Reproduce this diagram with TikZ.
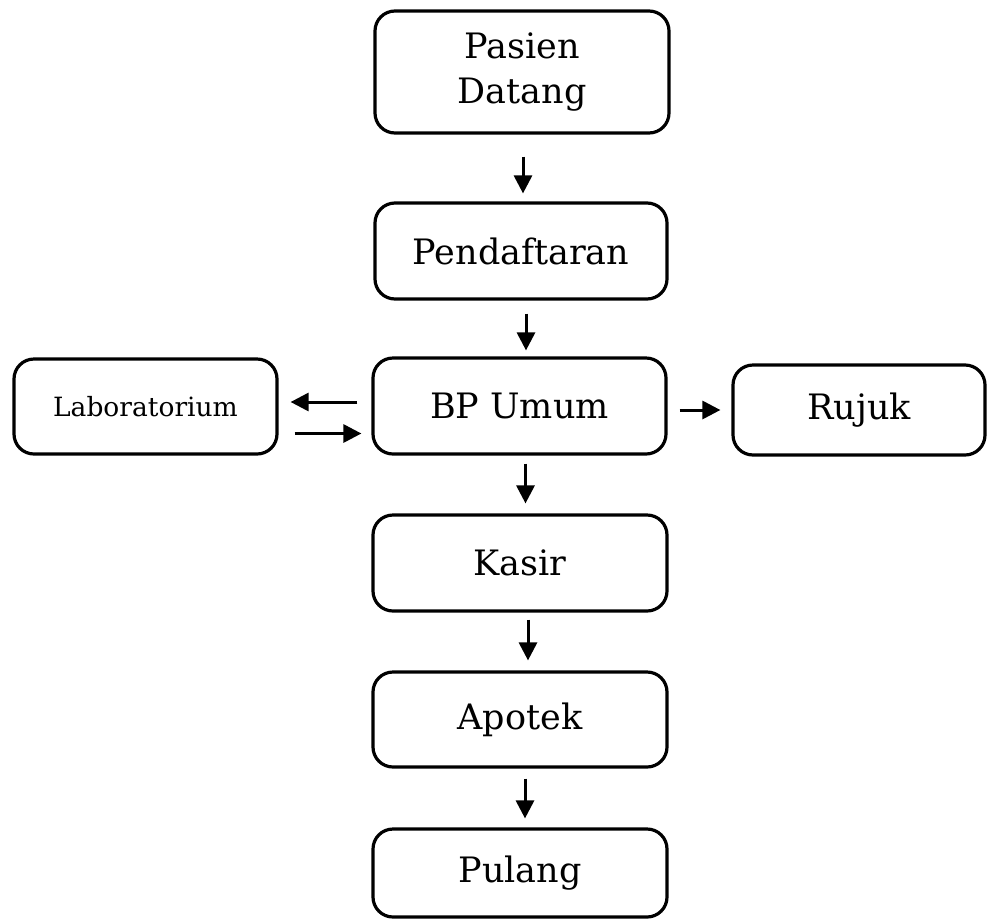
\documentclass[tikz,border=0pt]{standalone}
\usepackage{fontspec}
\setmainfont{DejaVu Serif}
\usetikzlibrary{arrows.meta}
\begin{document}
\begin{tikzpicture}[x=1pt,y=-1pt,
  box/.style={draw, line width=3.2pt, rounded corners=20pt, inner sep=0pt, align=center, font=\fontsize{35}{45}\selectfont},
  arr/.style={line width=3pt, -{Triangle[length=18pt,width=18pt]}}]
\useasboundingbox (0,0) rectangle (987,919);
\node[box, minimum width=294pt, minimum height=122pt] (pd) at (522,72) {Pasien\\Datang};
\node[box, minimum width=292pt, minimum height=96pt] (pf) at (521,251) {Pendaftaran};
\node[box, minimum width=293pt, minimum height=96pt] (bp) at (519.5,406) {BP Umum};
\node[box, minimum width=263pt, minimum height=95pt, font=\fontsize{26.5}{30}\selectfont] (lab) at (145.5,406.5) {Laboratorium};
\node[box, minimum width=252pt, minimum height=90pt] (rj) at (859,410) {Rujuk};
\node[box, minimum width=294pt, minimum height=96pt] (ks) at (520,563) {Kasir};
\node[box, minimum width=294pt, minimum height=95pt] (ap) at (520,719.5) {Apotek};
\node[box, minimum width=294pt, minimum height=88pt] (pl) at (520,873) {Pulang};
\draw[arr, shorten <=22pt, shorten >=8pt] ([xshift=1pt]pd.south) -- ([xshift=1pt]pd.south |- pf.north);
\draw[arr, shorten <=13pt, shorten >=6pt] ([xshift=5pt]pf.south) -- ([xshift=5pt]pf.south |- bp.north);
\draw[arr, shorten <=8pt, shorten >=10pt] ([xshift=6pt]bp.south) -- ([xshift=6pt]bp.south |- ks.north);
\draw[arr, shorten <=7pt, shorten >=10pt] ([xshift=8pt]ks.south) -- ([xshift=8pt]ks.south |- ap.north);
\draw[arr, shorten <=10pt, shorten >=9pt] ([xshift=5pt]ap.south) -- ([xshift=5pt]ap.south |- pl.north);
\draw[arr, shorten <=14pt, shorten >=12pt] ([yshift=4pt]bp.west) -- ([yshift=4pt]bp.west -| lab.east);
\draw[arr, shorten <=16pt, shorten >=10pt] ([yshift=-27pt]lab.east) -- ([yshift=-27pt]lab.east -| bp.west);
\draw[arr, shorten <=12pt, shorten >=11pt] ([yshift=-4pt]bp.east) -- ([yshift=-4pt]bp.east -| rj.west);
\end{tikzpicture}
\end{document}
